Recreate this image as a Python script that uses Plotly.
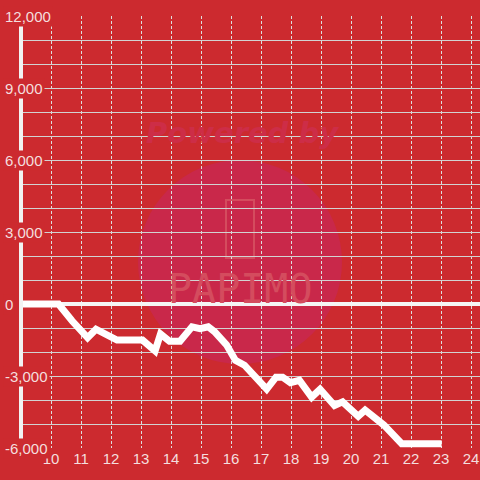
import plotly.graph_objects as go

# ---- data ----
hours = [9.0, 10.25, 10.7, 11.0, 11.22, 11.5, 12.2, 13.05, 13.47, 13.65, 13.95, 14.3,
         14.7, 14.97, 15.24, 15.45, 15.85, 16.15, 16.45, 17.19, 17.5, 17.72, 17.98,
         18.28, 18.69, 18.97, 19.45, 19.72, 20.24, 20.47, 20.86, 21.1, 21.69, 23.02]
balance = [0, 0, -700, -1050, -1400, -1050, -1500, -1500, -1950, -1250, -1550, -1550,
           -950, -1030, -950, -1150, -1700, -2350, -2550, -3550, -3050, -3050, -3280,
           -3180, -3880, -3550, -4230, -4080, -4680, -4420, -4850, -5050, -5820, -5820]
x_ticks = list(range(10, 25))
y_ticks = [12000, 9000, 6000, 3000, 0, -3000, -6000]
y_tick_labels = ["12,000", "9,000", "6,000", "3,000", "0", "-3,000", "-6,000"]

BG = "#CC2A2F"
FONT = "Liberation Sans, Arial, sans-serif"
LABEL = "#F4DEDE"

fig = go.Figure()
fig.add_trace(go.Scatter(x=hours, y=balance, mode="lines",
                         line=dict(color="white", width=7), hoverinfo="skip"))

# watermark
fig.add_shape(type="circle", xref="paper", yref="paper",
              x0=(138 - 21) / 459, x1=(342 - 21) / 459,
              y0=(448 - 364) / 432, y1=(448 - 160) / 432,
              fillcolor="#C9284A", line=dict(width=0), layer="below")
fig.add_annotation(xref="paper", yref="paper", x=(242 - 21) / 459, y=(448 - 114) / 432,
                   text="<b><i>Powered by</i></b>", showarrow=False,
                   font=dict(family="DejaVu Sans", size=29, color="#CD2D47"))
fig.add_annotation(xref="paper", yref="paper", x=(240 - 21) / 459, y=(448 - 289) / 432,
                   text="PAPIMO", showarrow=False,
                   font=dict(family="DejaVu Sans Mono", size=40, color="#D44C5E"))
fig.add_shape(type="rect", xref="paper", yref="paper",
              x0=(226 - 21) / 459, x1=(254 - 21) / 459,
              y0=(448 - 258) / 432, y1=(448 - 200) / 432,
              line=dict(color="#D44C5E", width=2), layer="below")

# y axis line
fig.add_shape(type="line", xref="paper", yref="paper", x0=0, x1=0, y0=0, y1=1,
              line=dict(color="#F2F2F2", width=4), layer="above")

for v, t in zip(y_ticks, y_tick_labels):
    fig.add_annotation(xref="paper", yref="y", x=-18 / 459, y=v, xanchor="left",
                       text=t, showarrow=False, bgcolor=BG, borderpad=1,
                       font=dict(family=FONT, size=15, color=LABEL))

fig.update_layout(
    width=480, height=480,
    margin=dict(l=21, r=0, t=16, b=32, autoexpand=False),
    paper_bgcolor=BG, plot_bgcolor=BG,
    showlegend=False,
    xaxis=dict(range=[9, 24 + 9 / 30], tickvals=x_ticks, showgrid=True,
               gridcolor="#DDDDDD", gridwidth=1, griddash="3px,2px",
               zeroline=False, showline=False, ticks="", automargin=False,
               tickfont=dict(family=FONT, size=15, color=LABEL)),
    yaxis=dict(range=[-6000, 12000], dtick=1000, tick0=0, showgrid=True,
               gridcolor="#D2D2D2", gridwidth=1, zeroline=True,
               zerolinecolor="#F5F5F5", zerolinewidth=4, automargin=False,
               showticklabels=False, ticks="", showline=False),
)

fig.write_html("out.html", config={"displayModeBar": False},
               post_script="document.body.style.margin='0';document.body.style.background='%s';" % BG)
